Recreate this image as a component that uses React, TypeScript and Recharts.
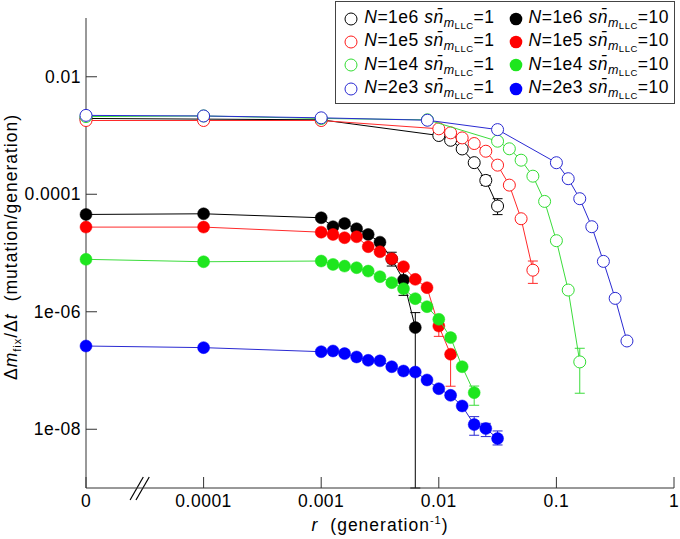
import React from 'react';
import { ComposedChart, Scatter, XAxis, YAxis, ErrorBar, ReferenceLine } from 'recharts';

// ---------- axes ----------
const ZERO_POS = 1e-5; // r = 0 is drawn one decade left of 0.0001 (broken axis)
const xTicks = [0, 0.0001, 0.001, 0.01, 0.1, 1];
const xTickLabels = ['0', '0.0001', '0.001', '0.01', '0.1', '1'];
const yTicks = [1e-8, 1e-6, 1e-4, 1e-2];
const yTickLabels = ['1e-08', '1e-06', '0.0001', '0.01'];

// ---------- series: open circles (s n = 1) ----------
const rOpenBlack = [0, 0.0001, 0.001, 0.01, 0.0126, 0.0158, 0.02, 0.0251, 0.0316];
const vOpenBlack = [1.95e-3, 1.9e-3, 1.85e-3, 1.0e-3, 8.3e-4, 5.9e-4, 3.45e-4, 1.72e-4, 6.3e-5];
const eOpenBlack = [null, null, null, null, null, null, null, [3e-5, 3.5e-5], [1.8e-5, 2.1e-5]];

const rOpenRed = [0, 0.0001, 0.001, 0.01, 0.0126, 0.0158, 0.02, 0.0251, 0.0316, 0.0398, 0.0501, 0.0631];
const vOpenRed = [1.8e-3, 1.8e-3, 1.8e-3, 1.3e-3, 1.11e-3, 9.1e-4, 7.3e-4, 5.4e-4, 3.13e-4, 1.43e-4, 3.83e-5, 5.1e-6];
const eOpenRed = [null, null, null, null, null, null, null, null, null, null, null, [2.06e-6, 2.2e-6]];

const rOpenGreen = [0, 0.0001, 0.001, 0.008, 0.0316, 0.0398, 0.0501, 0.0631, 0.0794, 0.1, 0.126, 0.158];
const vOpenGreen = [2.1e-3, 2.15e-3, 1.95e-3, 1.85e-3, 8.0e-4, 5.94e-4, 3.8e-4, 2.03e-4, 7.55e-5, 1.62e-5, 2.34e-6, 1.4e-7];
const eOpenGreen = [null, null, null, null, null, null, null, null, null, null, null, [9.9e-8, 9.9e-8]];

const rOpenBlue = [0, 0.0001, 0.001, 0.008, 0.0316, 0.1, 0.126, 0.158, 0.2, 0.251, 0.316, 0.398];
const vOpenBlue = [2.2e-3, 2.15e-3, 2.0e-3, 1.82e-3, 1.26e-3, 3.44e-4, 1.84e-4, 8.4e-5, 2.8e-5, 7.2e-6, 1.69e-6, 3.18e-7];
const eOpenBlue = [null, null, null, null, [1e-4, 1.5e-4], null, null, null, null, null, null, null];

// ---------- series: filled circles (s n = 10) ----------
const rSolidBlack = [0, 0.0001, 0.001, 0.00126, 0.00158, 0.002, 0.00251, 0.00316, 0.00398, 0.00501, 0.00631];
const vSolidBlack = [4.53e-5, 4.65e-5, 3.98e-5, 2.8e-5, 3.18e-5, 2.59e-5, 2.07e-5, 1.53e-5, 7.9e-6, 3.46e-6, 5.37e-7];
const eSolidBlack = [null, null, null, null, null, null, null, null, [1.9e-6, 2.4e-6], [1.56e-6, 2.5e-6], [5.36e-7, 4.3e-7]];

const rSolidRed = [0, 0.0001, 0.001, 0.00126, 0.00158, 0.002, 0.00251, 0.00316, 0.00398, 0.00501, 0.00631, 0.00794, 0.01, 0.0126];
const vSolidRed = [2.76e-5, 2.76e-5, 2.26e-5, 2.07e-5, 1.82e-5, 1.89e-5, 1.28e-5, 1.05e-5, 8.0e-6, 5.85e-6, 3.56e-6, 2.57e-6, 5.71e-7, 1.89e-7];
const eSolidRed = [null, null, null, null, null, null, null, null, null, null, null, null, [1.9e-7, 2.2e-7], [1.35e-7, 0]];

const rSolidGreen = [0, 0.0001, 0.001, 0.00126, 0.00158, 0.002, 0.00251, 0.00316, 0.00398, 0.00501, 0.00631, 0.00794, 0.01, 0.0126, 0.0158, 0.02];
const vSolidGreen = [7.8e-6, 7.1e-6, 7.3e-6, 6.4e-6, 5.98e-6, 5.62e-6, 4.92e-6, 3.95e-6, 3.13e-6, 2.47e-6, 1.67e-6, 1.22e-6, 7.43e-7, 3.63e-7, 1.16e-7, 4.2e-8];
const eSolidGreen = [null, null, null, null, null, null, null, null, null, null, null, null, null, null, null, [1.64e-8, 1.24e-8]];

const rSolidBlue = [0, 0.0001, 0.001, 0.00126, 0.00158, 0.002, 0.00251, 0.00316, 0.00398, 0.00501, 0.00631, 0.00794, 0.01, 0.0126, 0.0158, 0.02, 0.0251, 0.0316];
const vSolidBlue = [2.61e-7, 2.45e-7, 2.09e-7, 2.15e-7, 1.94e-7, 1.7e-7, 1.49e-7, 1.46e-7, 1.16e-7, 9.8e-8, 9.4e-8, 6.9e-8, 4.9e-8, 3.78e-8, 2.49e-8, 1.2e-8, 1.03e-8, 6.95e-9];
const eSolidBlue = [null, null, null, null, null, null, null, null, null, null, null, null, null, null, null, [4.1e-9, 4.4e-9], [2.8e-9, 2.3e-9], [1.55e-9, 2.4e-9]];

// ---------- legend ----------
const legendN = ['1e6', '1e5', '1e4', '2e3'];
const legendS = ['1', '10'];

const COLORS = {
  black: { fill: '#000000', stroke: '#000000', line: '#000000' },
  red: { fill: '#ff0000', stroke: '#ff1a1a', line: '#ff2a2a' },
  green: { fill: '#1ee61e', stroke: '#33dd33', line: '#3cdc3c' },
  blue: { fill: '#0000ff', stroke: '#2a2ad2', line: '#2a2ad2' },
};
const ORDER = ['black', 'red', 'green', 'blue'];

const build = (rs: number[], vs: number[], es: any[]) =>
  rs.map((r, i) => ({ x: r === 0 ? ZERO_POS : r, y: vs[i], err: es[i] }));

const openSeries = [
  build(rOpenBlack, vOpenBlack, eOpenBlack),
  build(rOpenRed, vOpenRed, eOpenRed),
  build(rOpenGreen, vOpenGreen, eOpenGreen),
  build(rOpenBlue, vOpenBlue, eOpenBlue),
];
const solidSeries = [
  build(rSolidBlack, vSolidBlack, eSolidBlack),
  build(rSolidRed, vSolidRed, eSolidRed),
  build(rSolidGreen, vSolidGreen, eSolidGreen),
  build(rSolidBlue, vSolidBlue, eSolidBlue),
];

const FONT = "Arial, 'Liberation Sans', Helvetica, sans-serif";
const FS = 17.5;
const R = 6;

const XTick = (props: any) => {
  const { x, y, payload } = props;
  const idx = xTicks.map((v) => (v === 0 ? ZERO_POS : v)).indexOf(payload.value);
  return (
    <g>
      <line x1={x} y1={y} x2={x} y2={y - 11} stroke="#333" strokeWidth={1} />
      <text x={x} y={y + 19} textAnchor="middle" fontSize={FS} letterSpacing={0.5} fontFamily={FONT} fill="#000">
        {xTickLabels[idx]}
      </text>
    </g>
  );
};

const YTick = (props: any) => {
  const { x, y, payload } = props;
  const idx = yTicks.indexOf(payload.value);
  return (
    <g>
      <line x1={x} y1={y} x2={x + 11} y2={y} stroke="#333" strokeWidth={1} />
      <text x={x - 5} y={y + 6} textAnchor="end" fontSize={FS} letterSpacing={0.5} fontFamily={FONT} fill="#000">
        {yTickLabels[idx]}
      </text>
    </g>
  );
};

const XLabel = (props: any) => {
  const vb = props.viewBox;
  const cx = vb.x + vb.width / 2;
  return (
    <text x={cx} y={vb.y + 43} textAnchor="middle" fontSize={FS} letterSpacing={1} fontFamily={FONT} fill="#000">
      <tspan fontStyle="italic">r</tspan>
      <tspan dx={12}>(generation</tspan>
      <tspan dy={-7} fontSize={11}>-1</tspan>
      <tspan dy={7}>)</tspan>
    </text>
  );
};

const YLabel = (props: any) => {
  const cy = 247;
  return (
    <text transform={`rotate(-90)`} x={-cy} y={17} textAnchor="middle" fontSize={FS} letterSpacing={1} fontFamily={FONT} fill="#000">
      <tspan>Δ</tspan>
      <tspan fontStyle="italic">m</tspan>
      <tspan dy={4} fontSize={11}>fix</tspan>
      <tspan dy={-4}>/Δ</tspan>
      <tspan fontStyle="italic">t</tspan>
      <tspan dx={12}>(mutation/generation)</tspan>
    </text>
  );
};

const openShape = (color: string) => (p: any) => (
  <circle cx={p.cx} cy={p.cy} r={R} fill="#ffffff" stroke={color} strokeWidth={1} />
);
const solidShape = (color: string) => (p: any) => (
  <circle cx={p.cx} cy={p.cy} r={R} fill={color} stroke={color} strokeWidth={0.5} />
);

const LegendText = ({ n, s }: { n: string; s: string }) => (
  <span style={{ whiteSpace: 'nowrap', letterSpacing: 0.5 }}>
    <i>N</i>={n} <i>s</i>
    <i>n{'\u0304'}</i>
    <span style={{ fontSize: 12.5, position: 'relative', top: 4 }}>
      <i>m</i>
      <span style={{ fontSize: 9.5, position: 'relative', top: 2 }}>LLC</span>
    </span>
    ={s}
  </span>
);

const Legend = () => (
  <div
    style={{
      position: 'absolute',
      right: 5,
      top: 1,
      border: '1px solid #444',
      background: '#fff',
      padding: '5px 5px 3px 8px',
      display: 'grid',
      gridTemplateColumns: 'auto auto',
      columnGap: 14,
      fontFamily: FONT,
      fontSize: FS,
      lineHeight: '21.3px',
      color: '#000',
    }}
  >
    {legendN.map((n, i) =>
      legendS.map((s, j) => {
        const c = (COLORS as any)[ORDER[i]];
        return (
          <div key={`${i}-${j}`} style={{ display: 'flex', alignItems: 'center' }}>
            <svg width={14} height={14} style={{ marginRight: 6 }}>
              {j === 0 ? (
                <circle cx={7} cy={7} r={6} fill="#fff" stroke={c.stroke} strokeWidth={1} />
              ) : (
                <circle cx={7} cy={7} r={6.3} fill={c.fill} />
              )}
            </svg>
            <LegendText n={n} s={s} />
          </div>
        );
      })
    )}
  </div>
);

export default function App() {
  return (
    <div style={{ position: 'absolute', left: 0, top: 0, width: 680, height: 539, background: '#fff' }}>
      <ComposedChart width={680} height={539} margin={{ top: 18, right: 6, bottom: 0, left: 0 }}>
        <XAxis
          dataKey="x"
          type="number"
          scale="log"
          domain={[1e-5, 1]}
          ticks={xTicks.map((v) => (v === 0 ? ZERO_POS : v))}
          interval={0}
          height={51}
          tickSize={0}
          tickMargin={0}
          tickLine={false}
          axisLine={{ stroke: '#333' }}
          tick={<XTick />}
          label={<XLabel />}
        />
        <YAxis
          dataKey="y"
          type="number"
          scale="log"
          domain={[1e-9, 1e-1]}
          ticks={yTicks}
          interval={0}
          width={86}
          tickSize={0}
          tickMargin={0}
          tickLine={false}
          axisLine={{ stroke: '#333' }}
          tick={<YTick />}
          label={<YLabel />}
        />
        {openSeries.map((d, i) => {
          const c = (COLORS as any)[ORDER[i]];
          return (
            <Scatter
              key={`o${i}`}
              data={d}
              line={{ stroke: c.line, strokeWidth: 1 }}
              lineType="joint"
              shape={openShape(c.stroke)}
              isAnimationActive={false}
            >
              <ErrorBar dataKey="err" direction="y" width={5} stroke={c.line} strokeWidth={1} />
            </Scatter>
          );
        })}
        {solidSeries.map((d, i) => {
          const c = (COLORS as any)[ORDER[i]];
          return (
            <Scatter
              key={`s${i}`}
              data={d}
              line={{ stroke: c.line, strokeWidth: 1 }}
              lineType="joint"
              shape={solidShape(c.fill)}
              isAnimationActive={false}
            >
              <ErrorBar dataKey="err" direction="y" width={5} stroke={c.line} strokeWidth={1} />
            </Scatter>
          );
        })}
        <ReferenceLine
          segment={[{ x: 2.37e-5, y: 6.25e-10 }, { x: 3.07e-5, y: 1.54e-9 }]}
          stroke="#000"
          strokeWidth={1.2}
          ifOverflow="visible"
        />
        <ReferenceLine
          segment={[{ x: 2.66e-5, y: 6.25e-10 }, { x: 3.45e-5, y: 1.54e-9 }]}
          stroke="#000"
          strokeWidth={1.2}
          ifOverflow="visible"
        />
      </ComposedChart>
      <Legend />
    </div>
  );
}
